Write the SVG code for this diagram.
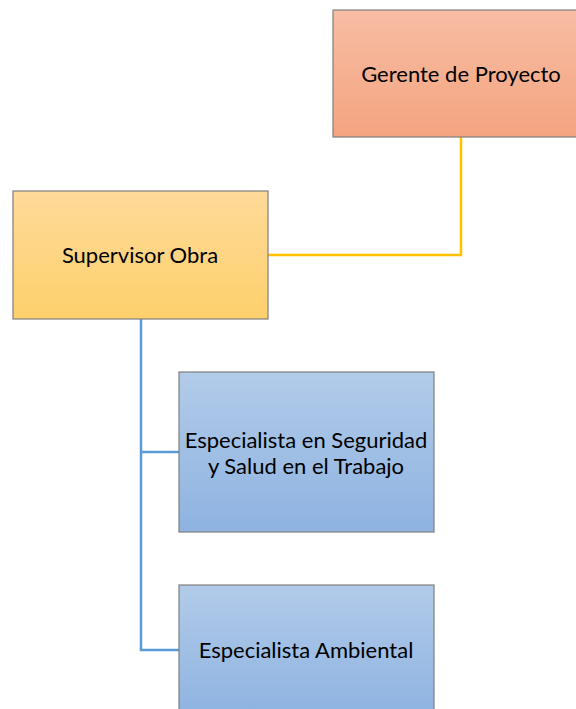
<svg xmlns="http://www.w3.org/2000/svg" width="576" height="709" viewBox="0 0 576 709">
<style>
.box{stroke:#7f7f7f;stroke-width:1.2}
.lbl{font-family:Lato,"Open Sans","Liberation Sans",sans-serif;font-size:22px;fill:#000;text-anchor:middle}
.conn{fill:none;stroke-width:2.5}
</style>
<defs>
<linearGradient id="gOrange" x1="0" y1="0" x2="0" y2="1"><stop offset="0" stop-color="#f7bda4"/><stop offset="1" stop-color="#f4a47f"/></linearGradient>
<linearGradient id="gYellow" x1="0" y1="0" x2="0" y2="1"><stop offset="0" stop-color="#ffda99"/><stop offset="1" stop-color="#fdd06c"/></linearGradient>
<linearGradient id="gBlue" x1="0" y1="0" x2="0" y2="1"><stop offset="0" stop-color="#b2cbe9"/><stop offset="1" stop-color="#8eb3e1"/></linearGradient>
</defs>
<rect width="576" height="709" fill="#fff"/>
<g id="connectors">
<path class="conn" stroke="#ffc000" d="M268,255 H461 V137"/>
<path class="conn" stroke="#5b9bd5" d="M141,319 V650 H179 M141,452 H179"/>
</g>
<g id="gerente">
<rect class="box" x="333" y="10" width="256" height="127" fill="url(#gOrange)"/>
<text class="lbl" x="461" y="82">Gerente de Proyecto</text>
</g>
<g id="supervisor">
<rect class="box" x="13" y="191" width="255" height="128" fill="url(#gYellow)"/>
<text class="lbl" x="140" y="263">Supervisor Obra</text>
</g>
<g id="especialista-sst">
<rect class="box" x="179" y="372" width="255" height="160" fill="url(#gBlue)"/>
<text class="lbl" x="306" y="448">Especialista en Seguridad</text>
<text class="lbl" x="306" y="474">y Salud en el Trabajo</text>
</g>
<g id="especialista-ambiental">
<rect class="box" x="179" y="585" width="255" height="130" fill="url(#gBlue)"/>
<text class="lbl" x="306" y="658">Especialista Ambiental</text>
</g>
</svg>
